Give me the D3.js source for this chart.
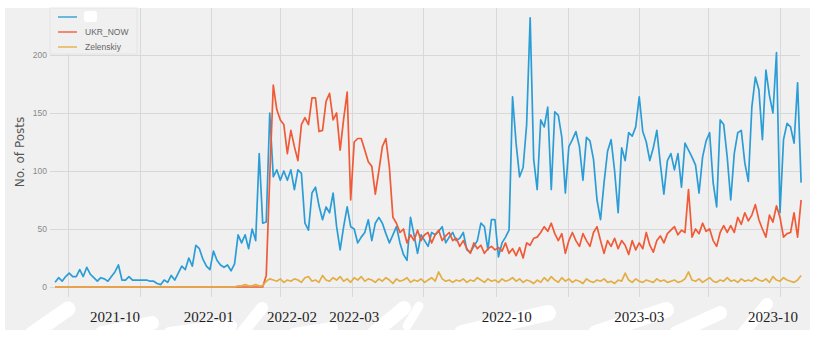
<!DOCTYPE html>
<html>
<head>
<meta charset="utf-8">
<script src="https://cdn.jsdelivr.net/npm/d3@7"></script>
<style>
  body { margin: 0; background: #ffffff; }
  svg { display: block; }
</style>
</head>
<body>
<svg id="chart" width="814" height="337"></svg>
<script>
// Posts per 3-day bucket, first bucket starting 2021-08-21
const startDate = "2021-08-21";
const stepDays = 3;

const seriesNames = ["", "UKR_NOW", "Zelenskiy"];
const seriesColors = ["#2b9dd6", "#f05a36", "#e3ae45"];

const unnamedValues = [
  4, 8, 5, 9, 12, 9, 9, 15, 9, 17,
  11, 8, 5, 8, 7, 5, 9, 13, 19, 6,
  6, 9, 6, 6, 6, 6, 6, 5, 5, 3,
  2, 6, 4, 10, 6, 12, 18, 15, 25, 18,
  36, 33, 24, 18, 15, 31, 23, 19, 17, 19,
  14, 20, 45, 38, 45, 33, 50, 40, 115, 55,
  56, 150, 95, 101, 92, 100, 92, 101, 84, 101,
  98, 55, 49, 81, 86, 70, 58, 69, 64, 81,
  52, 32, 52, 69, 52, 50, 38, 43, 47, 58,
  40, 55, 60, 55, 46, 38, 45, 52, 38, 28,
  23, 60, 45, 29, 45, 40, 35, 47, 45, 48,
  52, 38, 43, 47, 40, 42, 47, 32, 30, 35,
  40, 55, 52, 32, 58, 58, 26, 38, 43, 49,
  164, 124, 95, 103, 140, 232, 110, 84, 144, 138,
  155, 84, 151, 148, 129, 81, 121, 127, 134, 121,
  92, 129, 126, 110, 75, 58, 90, 117, 127, 100,
  64, 120, 109, 133, 130, 138, 164, 134, 125, 109,
  120, 135, 106, 80, 109, 115, 101, 115, 86, 124,
  118, 112, 105, 81, 112, 126, 133, 90, 69, 144,
  140, 112, 75, 115, 133, 135, 107, 91, 155, 181,
  170, 127, 187, 165, 150, 202, 64, 127, 141, 138,
  124, 176, 90
];

const ukrNowValues = [
  0, 0, 0, 0, 0, 0, 0, 0, 0, 0,
  0, 0, 0, 0, 0, 0, 0, 0, 0, 0,
  0, 0, 0, 0, 0, 0, 0, 0, 0, 0,
  0, 0, 0, 0, 0, 0, 0, 0, 0, 0,
  0, 0, 0, 0, 0, 0, 0, 0, 0, 0,
  0, 0, 0, 0, 0, 0, 0, 0, 0, 0,
  10, 95, 174, 153, 144, 140, 115, 135, 121, 109,
  140, 146, 140, 163, 163, 134, 135, 160, 167, 144,
  150, 118, 145, 168, 75, 125, 128, 128, 118, 108,
  104, 80, 100, 121, 128, 103, 60, 55, 47, 50,
  38, 45, 40, 49, 40, 45, 47, 38, 45, 49,
  40, 44, 47, 40, 42, 35, 40, 33, 29, 38,
  33, 36, 29, 33, 35, 32, 34, 31, 38, 29,
  33, 27, 34, 25, 38, 36, 42, 43, 47, 52,
  48, 55, 46, 40, 46, 29, 40, 47, 40, 35,
  46, 40, 35, 47, 52, 40, 29, 40, 35, 42,
  33, 40, 36, 28, 40, 32, 38, 33, 47, 36,
  30, 40, 44, 38, 46, 49, 52, 45, 49, 47,
  84, 43, 50, 46, 55, 48, 50, 40, 35, 47,
  53, 47, 53, 47, 60, 54, 64, 57, 62, 71,
  58, 50, 43, 62, 56, 70, 60, 43, 46, 47,
  64, 43, 75
];

const zelenskiyValues = [
  0, 0, 0, 0, 0, 0, 0, 0, 0, 0,
  0, 0, 0, 0, 0, 0, 0, 0, 0, 0,
  0, 0, 0, 0, 0, 0, 0, 0, 0, 0,
  0, 0, 0, 0, 0, 0, 0, 0, 0, 0,
  0, 0, 0, 0, 0, 0, 0, 0, 0, 0,
  0, 0, 1, 1, 2, 1, 1, 2, 1, 1,
  5, 7, 6, 5, 7, 4, 6, 5, 7, 6,
  4, 8, 9, 5, 6, 4, 10, 6, 5, 8,
  6, 9, 5, 7, 4, 8, 6, 9, 5, 7,
  6, 4, 7, 5, 8, 6, 3, 7, 5, 6,
  8, 4, 6, 5, 7, 4, 6, 8, 5, 13,
  7, 5, 6, 4, 6, 5, 7, 4, 6, 5,
  8, 6, 4, 7, 5, 6, 4, 7, 5, 6,
  8, 5, 7, 4, 6, 5, 3, 6, 4, 8,
  5, 9, 6, 4, 8, 5, 7, 4, 6, 5,
  3, 7, 5, 4, 6, 5, 7, 4, 5, 3,
  6, 5, 12, 6, 4, 7, 5, 4, 6, 5,
  4, 7, 5, 6, 4, 5, 6, 4, 5, 7,
  13, 6, 5, 7, 4, 6, 8, 5, 4, 6,
  5, 8, 5, 6, 4, 7, 5, 6, 5, 8,
  6, 5, 7, 4, 9, 6, 5, 8, 6, 5,
  4, 6, 10
];

const yTicks = [0, 50, 100, 150, 200];

// Date captions printed under the axis, with the day each one sits on
const xLabels = ["2021-10", "2022-01", "2022-02", "2022-03", "2022-10", "2023-03", "2023-10"];
const xLabelDates = ["2021-10-11", "2021-12-30", "2022-03-11", "2022-05-03", "2022-09-10", "2023-01-01", "2023-04-25"];

const svg = d3.select("#chart");
const W = 814, H = 337;
const plot = { left: 50, right: 800, top: 8, bottom: 297 };

const parse = d3.utcParse("%Y-%m-%d");
const t0 = parse(startDate);

const x = d3.scaleUtc()
  .domain([parse("2021-09-01"), parse("2023-05-01")])
  .range([68, 780]);
const y = d3.scaleLinear().domain([0, 200]).range([287, 55]);

// page and figure background
svg.append("rect").attr("width", W).attr("height", H).attr("fill", "#ffffff");
svg.append("rect")
  .attr("x", 5).attr("y", 8).attr("width", 805).attr("height", 322)
  .attr("fill", "#f0f0f0");

// white brush strokes behind the date captions
const strokes = svg.append("g")
  .attr("stroke", "#ffffff").attr("stroke-linecap", "round").attr("fill", "none");
[
  [32, 334, 68, 309, 15], [102, 333, 152, 323, 14], [170, 334, 230, 326, 14],
  [242, 333, 262, 308, 12], [294, 334, 332, 328, 12], [374, 333, 404, 308, 14],
  [407, 326, 419, 306, 9], [462, 333, 548, 313, 16], [596, 333, 666, 310, 16],
  [676, 333, 720, 313, 14], [744, 332, 767, 304, 12]
].forEach(([ax, ay, bx, by, w]) => {
  strokes.append("line")
    .attr("x1", ax).attr("y1", ay).attr("x2", bx).attr("y2", by)
    .attr("stroke-width", w);
});

// grid
const grid = svg.append("g").attr("stroke", "#d8d8d8").attr("stroke-width", 1);
const monthTicks = d3.utcMonth.every(2).range(x.invert(plot.left), x.invert(plot.right));
grid.selectAll("line.v").data(monthTicks).join("line")
  .attr("class", "v")
  .attr("x1", d => Math.round(x(d)) + 0.5).attr("x2", d => Math.round(x(d)) + 0.5)
  .attr("y1", plot.top).attr("y2", plot.bottom);
grid.selectAll("line.h").data(yTicks).join("line")
  .attr("class", "h")
  .attr("x1", plot.left).attr("x2", plot.right)
  .attr("y1", d => Math.round(y(d)) + 0.5).attr("y2", d => Math.round(y(d)) + 0.5);

// y tick labels
svg.append("g").selectAll("text").data(yTicks).join("text")
  .attr("x", 47).attr("y", d => y(d))
  .attr("dy", "0.35em")
  .attr("text-anchor", "end")
  .attr("font-family", "'Liberation Sans', Arial, sans-serif")
  .attr("font-size", 8.5)
  .attr("fill", "#8a8a8a")
  .text(d => d);

// y axis title
svg.append("text")
  .attr("transform", "translate(24,152) rotate(-90)")
  .attr("text-anchor", "middle")
  .attr("font-family", "'DejaVu Sans', sans-serif")
  .attr("font-size", 12)
  .attr("fill", "#555555")
  .text("No. of Posts");

// series lines
const allSeries = [unnamedValues, ukrNowValues, zelenskiyValues];
const line = d3.line()
  .x((d, i) => x(d3.utcDay.offset(t0, i * stepDays)))
  .y(d => y(d));
svg.append("g").selectAll("path").data(allSeries).join("path")
  .attr("d", d => line(d))
  .attr("fill", "none")
  .attr("stroke", (d, i) => seriesColors[i])
  .attr("stroke-width", 1.7)
  .attr("stroke-linejoin", "round");

// legend
const lg = svg.append("g");
lg.append("rect")
  .attr("x", 50).attr("y", 8).attr("width", 87).attr("height", 46)
  .attr("fill", "#f0f0f0").attr("stroke", "#e2e2e2").attr("stroke-width", 0.8);
seriesNames.forEach((name, i) => {
  const ly = 17 + i * 15;
  lg.append("line")
    .attr("x1", 58).attr("x2", 77).attr("y1", ly).attr("y2", ly)
    .attr("stroke", seriesColors[i]).attr("stroke-width", 1.8).attr("opacity", 0.75);
  if (name) {
    lg.append("text")
      .attr("x", 85).attr("y", ly).attr("dy", "0.35em")
      .attr("font-family", "'Liberation Sans', Arial, sans-serif")
      .attr("font-size", 8.5).attr("fill", "#666666")
      .text(name);
  } else {
    lg.append("rect")
      .attr("x", 84).attr("y", ly - 6).attr("width", 13).attr("height", 11)
      .attr("rx", 3).attr("fill", "#ffffff");
  }
});

// date captions
svg.append("g").selectAll("text").data(xLabels).join("text")
  .attr("x", (d, i) => x(parse(xLabelDates[i])))
  .attr("y", 322)
  .attr("text-anchor", "middle")
  .attr("font-family", "'Liberation Serif', 'Times New Roman', serif")
  .attr("font-size", 15)
  .attr("fill", "#1e1e1e")
  .text(d => d);
</script>
</body>
</html>
